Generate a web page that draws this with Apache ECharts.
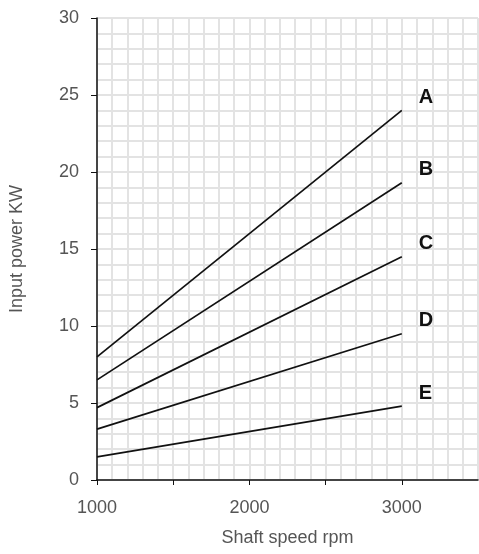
<!DOCTYPE html>
<html>
<head>
<meta charset="utf-8">
<script src="https://cdn.jsdelivr.net/npm/echarts@6/dist/echarts.min.js"></script>
<style>
  html, body { margin: 0; padding: 0; background: #fff; }
  #chart { width: 479px; height: 554px; }
</style>
</head>
<body>
<div id="chart"></div>
<script>
  // shaft speed (rpm) at the two ends of each line
  var speeds = [1000, 3000];
  var names = ['A', 'B', 'C', 'D', 'E'];
  // input power (kW) at 1000 and 3000 rpm
  var lineA = [8.0, 24.0];
  var lineB = [6.5, 19.3];
  var lineC = [4.7, 14.5];
  var lineD = [3.3, 9.5];
  var lineE = [1.5, 4.8];
  var xLabels = [1000, 2000, 3000];

  var font = 'Liberation Sans, Arial, sans-serif';
  var values = [lineA, lineB, lineC, lineD, lineE];
  var series = [];
  for (var i = 0; i < names.length; i++) {
    var pts = [];
    for (var j = 0; j < speeds.length; j++) pts.push([speeds[j], values[i][j]]);
    series.push({
      name: names[i],
      type: 'line',
      data: pts,
      symbol: 'none',
      silent: true,
      lineStyle: { color: '#111', width: 1.7 },
      endLabel: {
        show: true,
        formatter: names[i],
        offset: [9, -13],
        color: '#111',
        fontSize: 20,
        fontWeight: 'bold',
        fontFamily: font
      }
    });
  }

  var chart = echarts.init(document.getElementById('chart'));
  chart.setOption({
    animation: false,
    backgroundColor: '#fff',
    grid: { left: 97, right: 1, top: 18, bottom: 74 },
    xAxis: {
      type: 'value',
      min: 1000, max: 3500, interval: 500,
      name: 'Shaft speed rpm',
      nameLocation: 'middle',
      nameGap: 49,
      nameTextStyle: { color: '#555', fontSize: 18, fontFamily: font },
      axisLine: { show: true, lineStyle: { color: '#111', width: 1.5 } },
      axisTick: { show: true, length: 5, lineStyle: { color: '#111' } },
      axisLabel: {
        color: '#555', fontSize: 18, margin: 19,
        fontFamily: font,
        showMaxLabel: false,
        formatter: function (v) { return xLabels.indexOf(v) >= 0 ? String(v) : ''; }
      },
      splitLine: { show: true, lineStyle: { color: '#e3e3e3', width: 2 } },
      minorTick: { show: false, splitNumber: 5 },
      minorSplitLine: { show: true, lineStyle: { color: '#e3e3e3', width: 2 } }
    },
    yAxis: {
      type: 'value',
      min: 0, max: 30, interval: 5,
      name: 'Input power KW',
      nameLocation: 'middle',
      nameGap: 71,
      nameTextStyle: { color: '#555', fontSize: 18, fontFamily: font },
      axisLine: { show: true, lineStyle: { color: '#111', width: 1.5 } },
      axisTick: { show: true, length: 6, lineStyle: { color: '#111' } },
      axisLabel: { color: '#555', fontSize: 18, margin: 18, fontFamily: font },
      splitLine: { show: true, lineStyle: { color: '#e3e3e3', width: 2 } },
      minorTick: { show: false, splitNumber: 5 },
      minorSplitLine: { show: true, lineStyle: { color: '#e3e3e3', width: 2 } }
    },
    series: series
  });
</script>
</body>
</html>
